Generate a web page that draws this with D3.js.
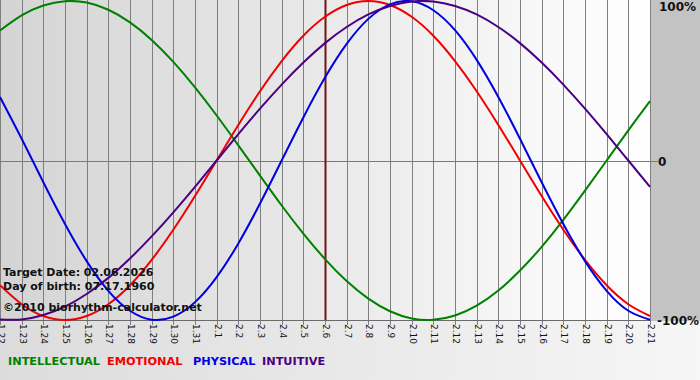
<!DOCTYPE html>
<html><head><meta charset="utf-8">
<script src="https://cdn.jsdelivr.net/npm/d3@7"></script>
<style>html,body{margin:0;padding:0;background:#fff}svg{display:block}</style>
</head><body>
<script>
const days = ["1.22","1.23","1.24","1.25","1.26","1.27","1.28","1.29","1.30","1.31","2.1","2.2","2.3","2.4","2.5","2.6","2.7","2.8","2.9","2.10","2.11","2.12","2.13","2.14","2.15","2.16","2.17","2.18","2.19","2.20","2.21"];
const intellectual = [0.815,0.910,0.972,0.999,0.990,0.945,0.866,0.756,0.618,0.458,0.282,0.095,-0.095,-0.282,-0.458,-0.618,-0.756,-0.866,-0.945,-0.990,-0.999,-0.972,-0.910,-0.815,-0.690,-0.541,-0.372,-0.189,0.000,0.189,0.372];
const emotional = [-0.782,-0.901,-0.975,-1.000,-0.975,-0.901,-0.782,-0.623,-0.434,-0.223,0.000,0.223,0.434,0.623,0.782,0.901,0.975,1.000,0.975,0.901,0.782,0.623,0.434,0.223,0.000,-0.223,-0.434,-0.623,-0.782,-0.901,-0.975];
const physical = [0.398,0.136,-0.136,-0.398,-0.631,-0.817,-0.942,-0.998,-0.979,-0.888,-0.731,-0.520,-0.270,0.000,0.270,0.520,0.731,0.888,0.979,0.998,0.942,0.817,0.631,0.398,0.136,-0.136,-0.398,-0.631,-0.817,-0.942,-0.998];
const intuitive = [-0.997,-0.997,-0.969,-0.916,-0.837,-0.736,-0.614,-0.476,-0.325,-0.165,0.000,0.165,0.325,0.476,0.614,0.736,0.837,0.916,0.969,0.997,0.997,0.969,0.916,0.837,0.736,0.614,0.476,0.325,0.165,0.000,-0.165];
const yTicks = [1, 0, -1];
const yTickLabels = ["100%", "0", "-100%"];
const targetDay = "2.6";
const infoLines = ["Target Date: 02.06.2026", "Day of birth: 07.17.1960", "\u00a92010 biorhythm-calculator.net"];

const series = [
  {name:"INTELLECTUAL", values:intellectual, color:"#008000"},
  {name:"EMOTIONAL", values:emotional, color:"#f00000"},
  {name:"PHYSICAL", values:physical, color:"#0000e0"},
  {name:"INTUITIVE", values:intuitive, color:"#4b0082"}
];

const W = 700, H = 380;
const plotL = 0, plotR = 650, plotT = 1, plotB = 320;

const svg = d3.select("body").append("svg").attr("width", W).attr("height", H);
const defs = svg.append("defs");
const g1 = defs.append("linearGradient").attr("id","plotGrad").attr("x1","0").attr("x2","1").attr("y1","0").attr("y2","0");
g1.append("stop").attr("offset","0").attr("stop-color","#d4d4d4");
g1.append("stop").attr("offset","1").attr("stop-color","#ffffff");
const g2 = defs.append("linearGradient").attr("id","botGrad").attr("x1","0").attr("x2","1").attr("y1","0").attr("y2","0");
g2.append("stop").attr("offset","0").attr("stop-color","#dcdcdc");
g2.append("stop").attr("offset","1").attr("stop-color","#f6f6f6");

svg.append("rect").attr("x",0).attr("y",0).attr("width",W).attr("height",H).attr("fill","url(#botGrad)");
svg.append("rect").attr("x",plotL).attr("y",0).attr("width",plotR-plotL+1).attr("height",plotB).attr("fill","url(#plotGrad)");
svg.append("rect").attr("x",plotR+1).attr("y",0).attr("width",W-plotR-1).attr("height",plotB+1).attr("fill","#c3c3c3");

const x = d3.scaleLinear().domain([0, days.length-1]).range([plotL, plotR]);
const y = d3.scaleLinear().domain([-1, 1]).range([plotB, plotT]);

// vertical grid
svg.append("g").selectAll("line").data(days).join("line")
  .attr("x1",(d,i)=>Math.round(x(i))+0.5).attr("x2",(d,i)=>Math.round(x(i))+0.5)
  .attr("y1",0).attr("y2",plotB+5)
  .attr("stroke","#7f7f7f").attr("stroke-width",1);
// zero line and bottom border
svg.append("line").attr("x1",plotL).attr("x2",plotR+8).attr("y1",Math.round(y(0))+0.5).attr("y2",Math.round(y(0))+0.5).attr("stroke","#7a7a7a");
svg.append("line").attr("x1",plotL).attr("x2",plotR+1).attr("y1",plotB+0.5).attr("y2",plotB+0.5).attr("stroke","#6a6a6a");

// target line
const ti = days.indexOf(targetDay);
svg.append("line").attr("x1",x(ti)+0.5).attr("x2",x(ti)+0.5).attr("y1",0).attr("y2",plotB)
  .attr("stroke","#701414").attr("stroke-width",2);

// curves
const line = d3.line().x((d,i)=>x(i)).y(d=>y(d)).curve(d3.curveNatural);
svg.append("g").selectAll("path").data(series).join("path")
  .attr("d",d=>line(d.values)).attr("fill","none").attr("stroke",d=>d.color).attr("stroke-width",2);

// info text
svg.append("g").selectAll("text").data(infoLines).join("text")
  .attr("x",3).attr("y",(d,i)=>[276,290,311][i])
  .attr("font-family","DejaVu Sans, Verdana, sans-serif").attr("font-weight","bold").attr("font-size","11px")
  .attr("fill","#111").text(d=>d);

// x tick labels
svg.append("g").selectAll("text").data(days).join("text")
  .attr("transform",(d,i)=>`translate(${x(i)+1},${plotB+4}) rotate(90)`)
  .attr("dominant-baseline","central")
  .attr("font-family","DejaVu Sans, Verdana, sans-serif").attr("font-size","9px").attr("fill","#111")
  .text(d=>d);

// y tick labels
svg.append("g").selectAll("text").data(yTicks).join("text")
  .attr("x",(d,i)=>[659,658,657][i]).attr("y",d=>y(d)+ (d===1?6:1))
  .attr("dominant-baseline","central")
  .attr("font-family","DejaVu Sans, Verdana, sans-serif").attr("font-weight","bold").attr("font-size","12px")
  .attr("fill","#111").text((d,i)=>yTickLabels[i]);

// legend
const legX = [8, 107, 193, 262];
svg.append("g").selectAll("text").data(series).join("text")
  .attr("x",(d,i)=>legX[i]).attr("y",361).attr("dominant-baseline","central")
  .attr("font-family","DejaVu Sans, Verdana, sans-serif").attr("font-weight","bold").attr("font-size","11.3px")
  .attr("fill",d=>d.color).text(d=>d.name);
</script>
</body></html>
